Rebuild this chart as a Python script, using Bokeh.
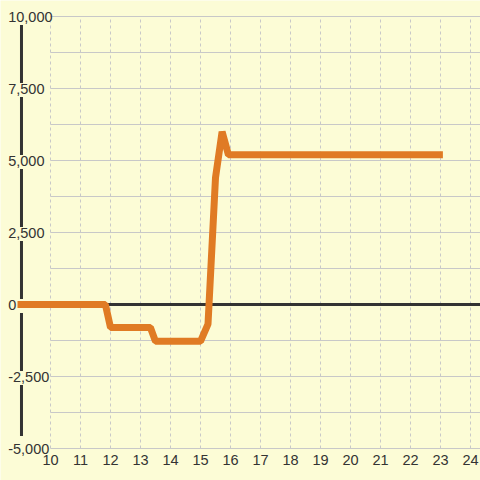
from bokeh.plotting import figure
from bokeh.models import Range1d, LinearAxis, FixedTicker, NumeralTickFormatter
from bokeh.embed import file_html
from bokeh.resources import INLINE

# ---- data ----
hours = [8.9, 11.83, 12.0, 13.33, 13.5, 15.0, 15.25, 15.5, 15.72, 15.93, 23.08]
values = [0, 0, -800, -800, -1280, -1280, -680, 4400, 6000, 5200, 5200]
x_ticks = [10, 11, 12, 13, 14, 15, 16, 17, 18, 19, 20, 21, 22, 23, 24]
y_ticks = [-5000, -2500, 0, 2500, 5000, 7500, 10000]
y_grid_ticks = [-5000, -3750, -2500, -1250, 0, 1250, 2500, 3750, 5000,
                6250, 7500, 8750, 10000]

# ---- style ----
BG = "#fcfcd6"
ORANGE = "#e07b24"
GRID = "#c8c8c8"
INK = "#333333"
FONT = "Liberation Sans"

unit = 2500 / 72.0        # value units per pixel
x_start, x_end = 10 - 50 / 30.0, 10 + 430 / 30.0
y_start, y_end = -5000 - 32 * unit, 10000 + 16 * unit
axis_x = 9.033            # position of the black vertical axis line

p = figure(width=480, height=480,
           x_range=Range1d(x_start, x_end), y_range=Range1d(y_start, y_end),
           output_backend="svg", toolbar_location=None,
           min_border=0,
           background_fill_color=BG, border_fill_color=BG,
           outline_line_color=None, x_axis_location=None, y_axis_location=None)

# x axis labels (fixed at the bottom grid line)
xax = LinearAxis(fixed_location=y_ticks[0], ticker=FixedTicker(ticks=x_ticks),
                 axis_line_color=None, major_tick_line_color=None,
                 minor_tick_line_color=None, major_tick_out=0, major_tick_in=0,
                 major_label_standoff=6,
                 major_label_text_font=FONT, major_label_text_font_size="14.5px",
                 major_label_text_color=INK)
p.add_layout(xax, "below")

# y axis labels (left aligned, inside the plot)
yax = LinearAxis(fixed_location=8.59, ticker=FixedTicker(ticks=y_ticks),
                 formatter=NumeralTickFormatter(format="0,0"),
                 axis_line_color=None, major_tick_line_color=None,
                 minor_tick_line_color=None, major_tick_out=0, major_tick_in=0,
                 major_label_standoff=0,
                 major_label_text_font=FONT, major_label_text_font_size="14.5px",
                 major_label_text_color=INK)
p.add_layout(yax, "right")

# grids
p.xgrid.ticker = FixedTicker(ticks=x_ticks)
p.xgrid.grid_line_color = GRID
p.xgrid.grid_line_dash = "3 3"
p.xgrid.grid_line_width = 1
p.ygrid.ticker = FixedTicker(ticks=y_grid_ticks)
p.ygrid.grid_line_color = GRID
p.ygrid.grid_line_width = 1
try:
    p.xgrid.cross_bounds = (y_ticks[0], y_ticks[-1])
    p.ygrid.cross_bounds = (x_ticks[0], x_end)
except Exception:
    pass

# black vertical axis line, broken behind the labels
top_ticks = sorted(y_ticks, reverse=True)
y0s, y1s = [], []
for hi, lo in zip(top_ticks[:-1], top_ticks[1:]):
    y0s.append(hi - 8.5 * unit)
    y1s.append(lo + 12.5 * unit if lo == top_ticks[-1] else lo + 5.5 * unit)
p.segment(x0=[axis_x] * len(y0s), y0=y0s, x1=[axis_x] * len(y0s), y1=y1s,
          line_color=INK, line_width=3)

# zero line
p.segment(x0=[axis_x], y0=[0], x1=[x_end], y1=[0], line_color=INK, line_width=3)

# data line
p.line(hours, values, line_color=ORANGE, line_width=7)

open("out.html", "w").write(file_html(p, INLINE))
